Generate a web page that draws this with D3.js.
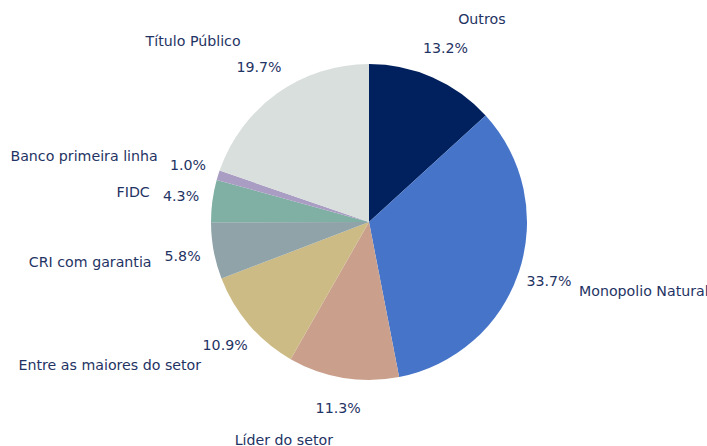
<!DOCTYPE html>
<html>
<head>
<meta charset="utf-8">
<script src="https://cdn.jsdelivr.net/npm/d3@7"></script>
<style>
  body { margin: 0; background: #fff; }
  svg { display: block; }
  text { font-family: "DejaVu Sans", sans-serif; font-size: 14.2px; fill: #1f3464; }
</style>
</head>
<body>
<div id="chart"></div>
<script>
var categories = ["Outros", "Monopolio Natural", "Líder do setor", "Entre as maiores do setor",
    "CRI com garantia", "FIDC", "Banco primeira linha", "Título Público"];
var shares = [13.2, 33.7, 11.3, 10.9, 5.8, 4.3, 1.0, 19.7];
var colors = ["#00205e", "#4574c8", "#caa08d", "#cdbb85", "#8fa3a9", "#80afa3", "#a99dc3", "#d9dfdc"];

var width = 707, height = 446;
var cx = 369, cy = 222, radius = 158;

var svg = d3.select("#chart").append("svg")
    .attr("width", width)
    .attr("height", height);

var data = categories.map(function (c, i) {
    return { name: c, value: shares[i], color: colors[i] };
});

// pie starts at 12 o'clock and goes clockwise
var pie = d3.pie().value(function (d) { return d.value; }).sort(null);
var arcs = pie(data);
var arc = d3.arc().innerRadius(0).outerRadius(radius);

var g = svg.append("g").attr("transform", "translate(" + cx + "," + cy + ")");

g.selectAll("path")
    .data(arcs)
    .join("path")
    .attr("d", arc)
    .attr("fill", function (d) { return d.data.color; });

function mid(d) { return (d.startAngle + d.endAngle) / 2; }

// category labels
g.selectAll(".lbl")
    .data(arcs)
    .join("text")
    .attr("class", "lbl")
    .attr("x", function (d) { return Math.sin(mid(d)) * radius * 1.4; })
    .attr("y", function (d) { return -Math.cos(mid(d)) * radius * 1.4; })
    .attr("dy", "0.3em")
    .attr("text-anchor", function (d) { return Math.sin(mid(d)) > 0 ? "start" : "end"; })
    .text(function (d) { return d.data.name; });

// percentage labels
g.selectAll(".pct")
    .data(arcs)
    .join("text")
    .attr("class", "pct")
    .attr("x", function (d) { return Math.sin(mid(d)) * radius * 1.2; })
    .attr("y", function (d) { return -Math.cos(mid(d)) * radius * 1.2; })
    .attr("dy", "0.3em")
    .attr("text-anchor", "middle")
    .text(function (d) { return d.data.value.toFixed(1) + "%"; });
</script>
</body>
</html>
